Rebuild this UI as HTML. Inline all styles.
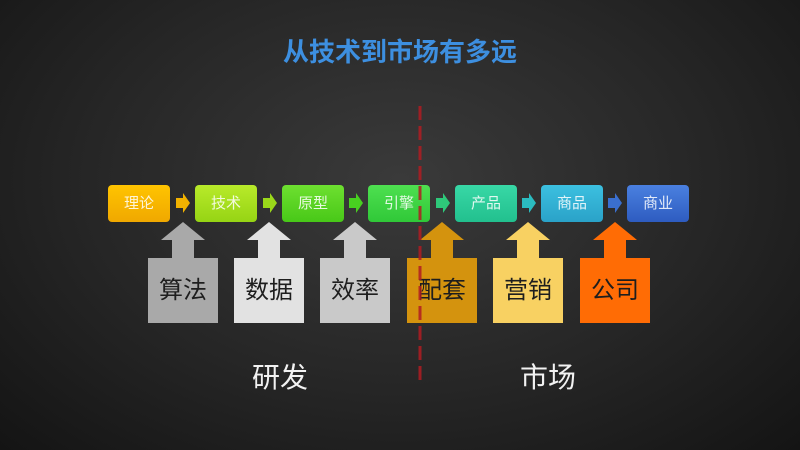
<!DOCTYPE html>
<html><head><meta charset="utf-8"><style>
body{margin:0;width:800px;height:450px;overflow:hidden;background:radial-gradient(ellipse at 50% 40%,#3a3a3a 0%,#262626 55%,#141414 100%);font-family:"Liberation Sans","Noto Sans CJK SC",sans-serif;position:relative}
.t{position:absolute;left:0;width:800px;top:32px;text-align:center;font-size:26px;font-weight:bold;color:#3d8fe0}
.b{position:absolute;top:185px;height:37px;width:62px;border-radius:4px;color:rgba(255,255,255,.85);font-size:15px;line-height:37px;text-align:center}
.bb{position:absolute;top:258px;width:70px;height:65px;font-size:24px;line-height:65px;text-align:center;color:#1e1e1e}
.lab{position:absolute;top:356px;font-size:28px;color:#f2f2f2}
</style></head><body>
<div class="t">从技术到市场有多远</div>
<svg width="800" height="450" style="position:absolute;left:0;top:0">
<g>
<path d="M176,198h7v-5l7,10l-7,10v-5h-7z" fill="#f2b200"/>
<path d="M263,198h7v-5l7,10l-7,10v-5h-7z" fill="#9ad81a"/>
<path d="M349,198h7v-5l7,10l-7,10v-5h-7z" fill="#48d020"/>
<path d="M436,198h7v-5l7,10l-7,10v-5h-7z" fill="#2ec97a"/>
<path d="M522,198h7v-5l7,10l-7,10v-5h-7z" fill="#2bbcc0"/>
<path d="M608,198h7v-5l7,10l-7,10v-5h-7z" fill="#3a6fcf"/>
</g>
<g>
<path d="M172,258v-18h-11l22,-18l22,18h-11v18z" fill="#a9a9a9"/>
<path d="M258,258v-18h-11l22,-18l22,18h-11v18z" fill="#e2e2e2"/>
<path d="M344,258v-18h-11l22,-18l22,18h-11v18z" fill="#c9c9c9"/>
<path d="M431,258v-18h-11l22,-18l22,18h-11v18z" fill="#d4930e"/>
<path d="M517,258v-18h-11l22,-18l22,18h-11v18z" fill="#f8d162"/>
<path d="M604,258v-18h-11l22,-18l22,18h-11v18z" fill="#ff6c05"/>
</g>
</svg>
<div class="b" style="left:108px;background:linear-gradient(#ffc400,#f0a800)">理论</div>
<div class="b" style="left:195px;background:linear-gradient(#b8ea2a,#96d414)">技术</div>
<div class="b" style="left:282px;background:linear-gradient(#6ee030,#48c818)">原型</div>
<div class="b" style="left:368px;background:linear-gradient(#4ee050,#30c838)">引擎</div>
<div class="b" style="left:455px;background:linear-gradient(#38d8a6,#22c08e)">产品</div>
<div class="b" style="left:541px;background:linear-gradient(#3cc0e0,#2aa2c8)">商品</div>
<div class="b" style="left:627px;background:linear-gradient(#4a80e0,#2e5cc0)">商业</div>
<div class="bb" style="left:148px;background:#a9a9a9">算法</div>
<div class="bb" style="left:234px;background:#e2e2e2">数据</div>
<div class="bb" style="left:320px;background:#c9c9c9">效率</div>
<div class="bb" style="left:407px;background:#d4930e">配套</div>
<div class="bb" style="left:493px;background:#f8d162">营销</div>
<div class="bb" style="left:580px;background:#ff6c05">公司</div>
<div class="lab" style="left:252px">研发</div>
<div class="lab" style="left:520px">市场</div>
<svg width="800" height="450" style="position:absolute;left:0;top:0">
<line x1="420" y1="106" x2="420" y2="385" stroke="#b01c22" stroke-opacity="0.85" stroke-width="3" stroke-dasharray="14,6"/>
</svg>
</body></html>
